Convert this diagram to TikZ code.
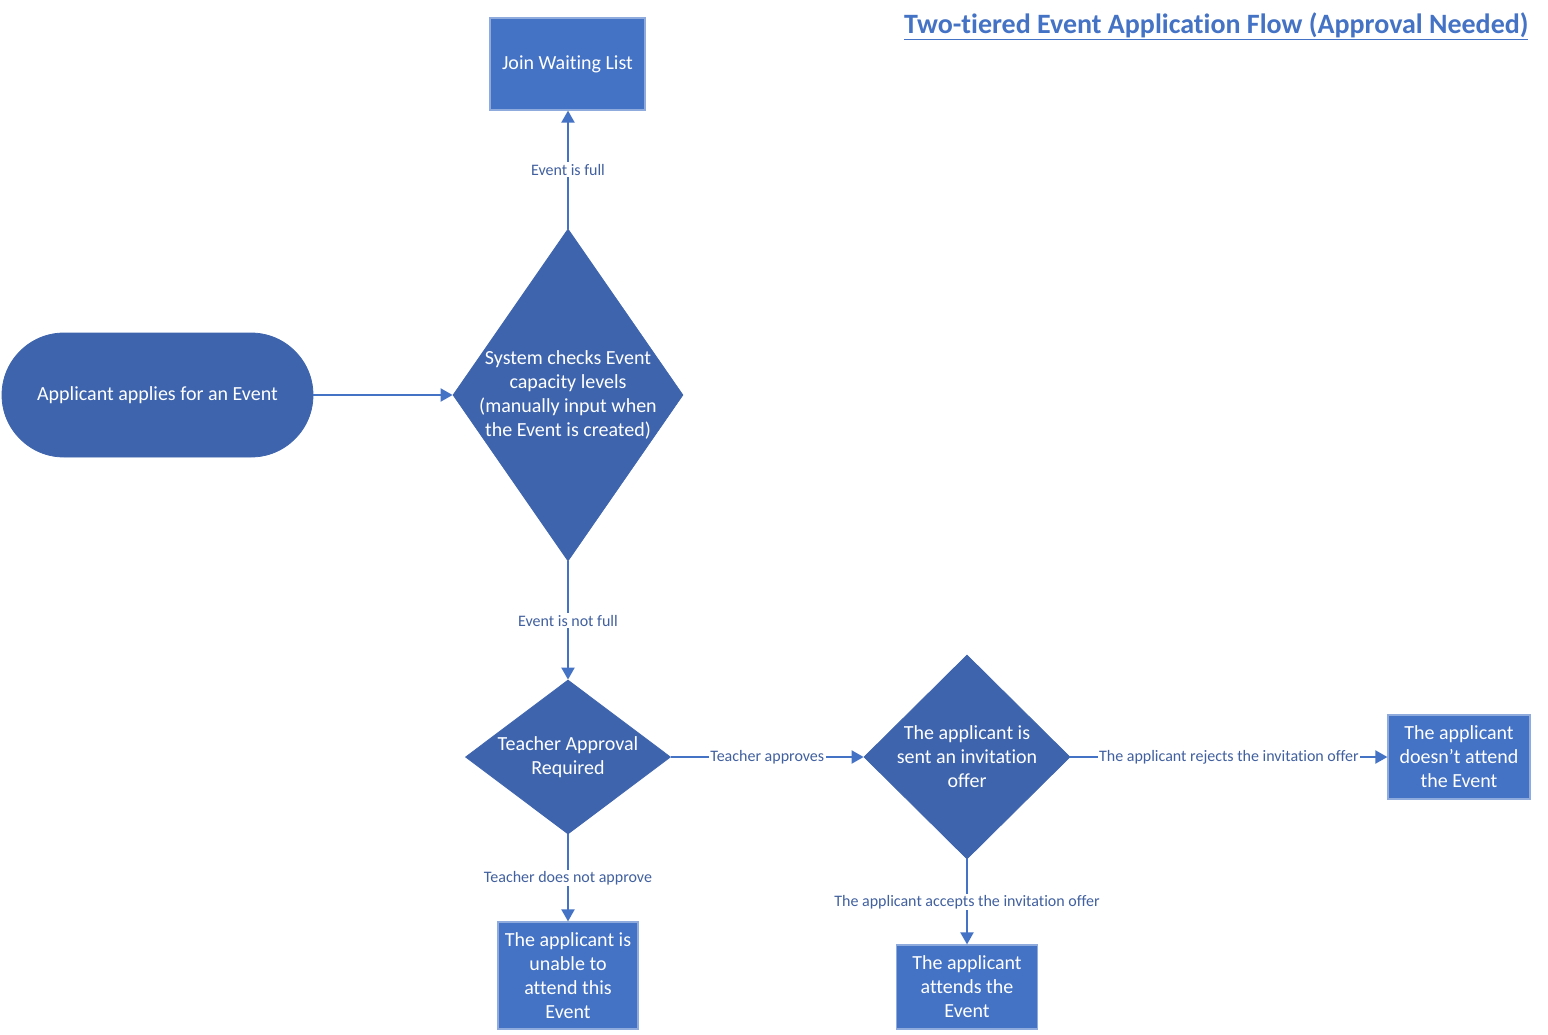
\documentclass[tikz,border=0pt]{standalone}
\usepackage{fontspec}
\setmainfont{Carlito}[Ligatures={NoCommon}]
\usetikzlibrary{shapes.geometric,arrows.meta}
\definecolor{rectfill}{HTML}{4472C4}
\definecolor{rectline}{HTML}{8FAADC}
\definecolor{darkfill}{HTML}{3E64AD}
\definecolor{arrowc}{HTML}{4472C4}
\definecolor{lblc}{HTML}{41609F}
\begin{document}
\begin{tikzpicture}[x=1pt,y=-1pt,
  box/.style={rectangle, fill=rectfill, draw=rectline, line width=1.2pt, text=white, align=center, inner sep=0pt, font=\fontsize{20}{24}\selectfont},
  term/.style={rectangle, rounded corners=62pt, fill=darkfill, draw=darkfill, line width=0.8pt, text=white, align=center, inner sep=0pt, font=\fontsize{20}{24}\selectfont},
  decision/.style={diamond, fill=darkfill, draw=darkfill, line width=0.8pt, inner sep=0pt},
  dtext/.style={text=white, align=center, inner sep=0pt, font=\fontsize{20}{24}\selectfont},
  flow/.style={draw=arrowc, line width=2pt, -{Triangle[length=12pt,width=13pt]}},
  elabel/.style={fill=white, text=lblc, inner sep=1.5pt, font=\fontsize{16}{18}\selectfont}
]
\useasboundingbox (0,0) rectangle (1548,1034);

\node[anchor=base east, text=arrowc, font=\bfseries\fontsize{28}{32}\selectfont] (title) at (1532,33) {\underline{Two-tiered Event Application Flow (Approval Needed)}};

\node[term, minimum width=311pt, minimum height=124pt] (apply) at (157.5,395) {Applicant applies for an Event};
\node[decision, minimum width=230pt, minimum height=332pt,
  label={[dtext]center:{System checks Event\\capacity levels\\(manually input when\\the Event is created)}}] (check) at (568,395) {};
\node[box, minimum width=155pt, minimum height=92pt] (wait) at (567.5,64) {Join Waiting List};
\node[decision, minimum width=205pt, minimum height=154pt,
  label={[dtext]center:{Teacher Approval\\Required}}] (teacher) at (568,757) {};
\node[decision, minimum width=206pt, minimum height=204pt,
  label={[dtext]center:{The applicant is\\sent an invitation\\offer}}] (invite) at (967,757) {};
\node[box, minimum width=142pt, minimum height=84pt] (notattend) at (1459,757) {The applicant\\doesn’t attend\\the Event};
\node[box, minimum width=140pt, minimum height=107pt] (unable) at (568,975.5) {The applicant is\\unable to\\attend this\\Event};
\node[box, minimum width=141pt, minimum height=84pt] (attends) at (967,987) {The applicant\\attends the\\Event};

\draw[flow] (apply.east) -- (check.west);
\draw[flow] (check.north) -- node[elabel]{Event is full} (check.north |- wait.south);
\draw[flow] (check.south) -- node[elabel]{Event is not full} (teacher.north);
\draw[flow] (teacher.east) -- node[elabel]{Teacher approves} (invite.west);
\draw[flow] (teacher.south) -- node[elabel]{Teacher does not approve} (unable.north);
\draw[flow] (invite.east) -- node[elabel]{The applicant rejects the invitation offer} (notattend.west);
\draw[flow] (invite.south) -- node[elabel]{The applicant accepts the invitation offer} (attends.north);
\end{tikzpicture}
\end{document}
